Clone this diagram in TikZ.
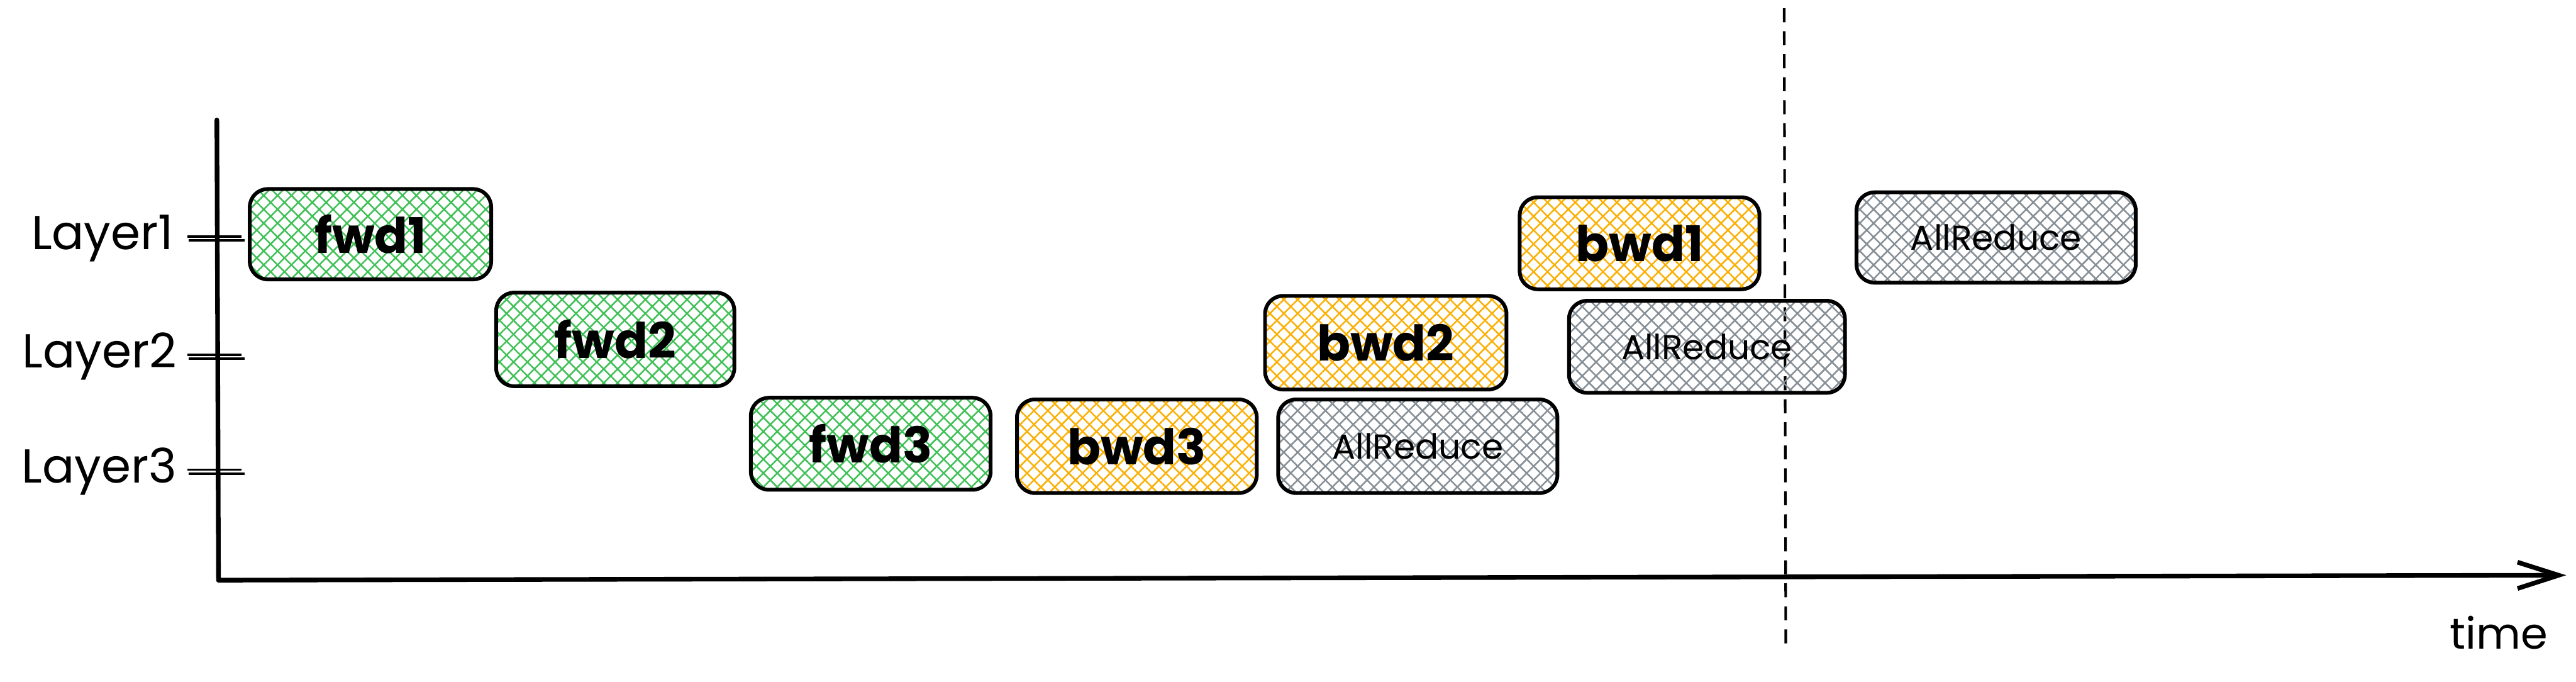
\documentclass[tikz,border=0pt]{standalone}
\usepackage{fontspec}
\setmainfont{Poppins}
\usetikzlibrary{patterns.meta,arrows.meta}
\definecolor{hgreen}{HTML}{40C057}
\definecolor{horange}{HTML}{FAB005}
\definecolor{hgray}{HTML}{868E96}
\tikzset{
  hatchbox/.style={draw=black, line width=1.3pt, rounded corners=0.22cm, inner sep=0pt,
    preaction={pattern={Lines[angle=45,distance=3.4pt,line width=0.55pt]}, pattern color=#1},
    preaction={pattern={Lines[angle=-45,distance=3.4pt,line width=0.55pt]}, pattern color=#1}},
  bigtxt/.style={font=\fontsize{17}{19}\selectfont\bfseries},
  smalltxt/.style={font=\fontsize{12}{14}\selectfont},
  layertxt/.style={font=\fontsize{16.5}{18}\selectfont, anchor=east, inner sep=0pt},
  axisline/.style={line width=1.6pt, line cap=round, line join=round},
  tickline/.style={line width=0.8pt},
}
\begin{document}
\begin{tikzpicture}[x=0.02cm, y=-0.02cm]
\useasboundingbox (0,0) rectangle (1568,414.6);

% axes
\coordinate (ytop) at (132,73);
\coordinate (orig) at (133,353);
\coordinate (xend) at (1562,350);
\draw[axisline] (ytop) -- (orig);
\draw[axisline, -{Straight Barb[length=0.5cm, width=0.32cm, line width=1.6pt]}] (orig) -- (xend);
\node[font=\fontsize{15}{17}\selectfont, inner sep=0pt] (time) at (1521,385) {time};

% dashed line
\coordinate (dtop) at (1086,5);
\coordinate (dbot) at (1087,395);
\draw[line width=0.9pt, dash pattern=on 0.17cm off 0.11cm] (dtop) -- (dbot);

% layer labels and ticks
\node[layertxt] (L1) at (106,145) {Layer1};
\node[layertxt] (L2) at (108,217) {Layer2};
\node[layertxt] (L3) at (108,287) {Layer3};
\foreach \n/\yy in {1/145, 2/217, 3/287}{
  \coordinate (t\n a) at (114,\yy-1.2);
  \coordinate (t\n b) at (147,\yy-1.2);
  \coordinate (t\n c) at (115,\yy+1.2);
  \coordinate (t\n d) at (149,\yy+1.2);
  \draw[tickline] (t\n a) -- (t\n b);
  \draw[tickline] (t\n c) -- (t\n d);
}

% boxes
\node[hatchbox=hgreen, bigtxt, minimum width=2.94cm, minimum height=1.10cm] (fwd1) at (225.5,142.5) {fwd1};
\node[hatchbox=hgreen, bigtxt, minimum width=2.90cm, minimum height=1.14cm] (fwd2) at (374.5,206.5) {fwd2};
\node[hatchbox=hgreen, bigtxt, minimum width=2.92cm, minimum height=1.12cm] (fwd3) at (530,270) {fwd3};
\node[hatchbox=horange, bigtxt, minimum width=2.92cm, minimum height=1.14cm] (bwd3) at (692,271.5) {bwd3};
\node[hatchbox=hgray, smalltxt, minimum width=3.40cm, minimum height=1.14cm] (ar3) at (863,271.5) {AllReduce};
\node[hatchbox=horange, bigtxt, minimum width=2.94cm, minimum height=1.14cm] (bwd2) at (843.5,208.5) {bwd2};
\node[hatchbox=horange, bigtxt, minimum width=2.92cm, minimum height=1.12cm] (bwd1) at (998,148) {bwd1};
\node[hatchbox=hgray, smalltxt, minimum width=3.36cm, minimum height=1.12cm] (ar2) at (1039,211) {AllReduce};
\node[hatchbox=hgray, smalltxt, minimum width=3.40cm, minimum height=1.10cm] (ar1) at (1215,144.5) {AllReduce};
\end{tikzpicture}
\end{document}
